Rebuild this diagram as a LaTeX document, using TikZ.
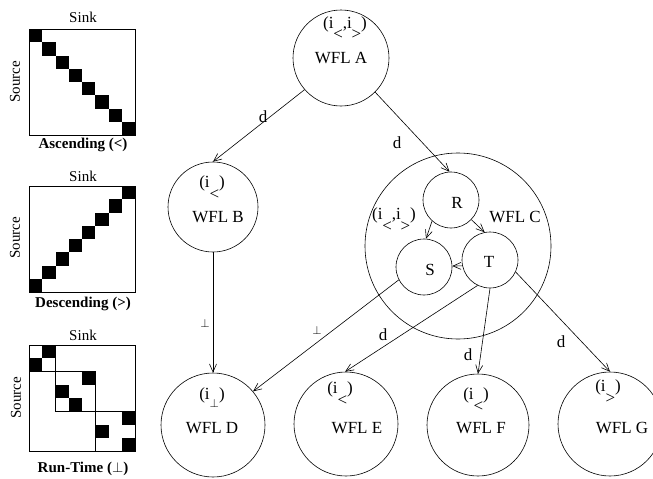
\documentclass[tikz,border=0pt]{standalone}
\usepackage{fontspec}
\setmainfont{Liberation Serif}
\usetikzlibrary{arrows.meta}
\newcommand\lowsym[2][0.75em]{\makebox[0.55em][c]{\raisebox{-#1}{#2}}}
\begin{document}
\begin{tikzpicture}[x=1pt,y=-1pt,
  txt/.style={font=\fontsize{15}{15}\selectfont, inner sep=0pt},
  gtxt/.style={font=\fontsize{17}{17}\selectfont, inner sep=0pt},
  btxt/.style={font=\fontsize{15}{15}\selectfont\bfseries, inner sep=0pt},
  wfl/.style={draw, circle, inner sep=0pt, line width=0.6pt},
  arr/.style={line width=0.6pt, -{Straight Barb[length=8pt,width=7pt]}},
  mbox/.style={draw, line width=0.6pt},
]
\useasboundingbox (0,0) rectangle (653,479);
\def\s{13.25}
% ---------- matrix 1: ascending
\draw[mbox] (29,29) rectangle (135,135);
\foreach \i in {0,...,7} \fill ({29+\i*\s},{29+\i*\s}) rectangle ++(\s,\s);
\node[txt, anchor=base] (sink1) at (83,23) {Sink};
\node[txt, rotate=90] (src1) at (15,82) {Source};
\node[btxt, anchor=base] (asc) at (83,148) {Ascending (<)};
% ---------- matrix 2: descending
\draw[mbox] (29,186) rectangle (135,292);
\foreach \i in {0,...,7} \fill ({29+\i*\s},{186+(7-\i)*\s}) rectangle ++(\s,\s);
\node[txt, anchor=base] (sink2) at (83,181) {Sink};
\node[txt, rotate=90] (src2) at (15,238) {Source};
\node[btxt, anchor=base] (desc) at (83,307) {Descending (>)};
% ---------- matrix 3: run-time
\draw[mbox] (29,345) rectangle (135,451);
\foreach \r/\c in {0/1,1/0,2/4,3/2,4/3,5/7,6/5,7/7}
  \fill ({29+\c*\s},{345+\r*\s}) rectangle ++(\s,\s);
\draw[mbox] (29,345) rectangle ++({2*\s},{2*\s});
\draw[mbox] ({29+2*\s},{345+2*\s}) rectangle ++({3*\s},{3*\s});
\draw[mbox] ({29+5*\s},{345+5*\s}) rectangle ++({3*\s},{3*\s});
\node[txt, anchor=base] (sink3) at (83,340) {Sink};
\node[txt, rotate=90] (src3) at (16,398) {Source};
\node[btxt, anchor=base] (rt) at (83,472) {Run-Time ($\perp$)};
% ---------- graph
\node[wfl, minimum size=96pt] (A) at (341,58) {};
\node[wfl, minimum size=90pt] (B) at (213,207) {};
\node[wfl, minimum size=186pt] (C) at (458,246) {};
\node[wfl, minimum size=56pt] (R) at (451,200) {};
\node[wfl, minimum size=56pt] (S) at (424,267) {};
\node[wfl, minimum size=56pt] (T) at (490,260) {};
\node[wfl, minimum size=104pt] (D) at (213,425) {};
\node[wfl, minimum size=104pt] (E) at (346,424) {};
\node[wfl, minimum size=102pt] (F) at (478,425) {};
\node[wfl, minimum size=104pt] (G) at (610,424) {};
% texts in circles
\node[gtxt, anchor=base] (Ai) at (345,28) {(i\lowsym[0.65em]{<},i\lowsym[0.65em]{>})};
\node[gtxt, anchor=base] (Al) at (341,63) {WFL A};
\node[gtxt, anchor=base] (Bi) at (212,187) {(i\lowsym{<})};
\node[gtxt, anchor=base] (Bl) at (218,222) {WFL B};
\node[gtxt, anchor=base] (Ci) at (394,219) {(i\lowsym{<},i\lowsym{>})};
\node[gtxt, anchor=base] (Cl) at (515,222) {WFL C};
\node[gtxt, anchor=base] (Rl) at (457,208) {R};
\node[gtxt, anchor=base] (Sl) at (430,275) {S};
\node[gtxt, anchor=base] (Tl) at (489,267) {T};
\node[gtxt, anchor=base] (Di) at (212,399) {(i\lowsym[0.5em]{$\scriptstyle\perp$})};
\node[gtxt, anchor=base] (Dl) at (212,433) {WFL D};
\node[gtxt, anchor=base] (Ei) at (340,393) {(i\lowsym{<})};
\node[gtxt, anchor=base] (El) at (357,433) {WFL E};
\node[gtxt, anchor=base] (Fi) at (476,399) {(i\lowsym{<})};
\node[gtxt, anchor=base] (Fl) at (481,433) {WFL F};
\node[gtxt, anchor=base] (Gi) at (608,391) {(i\lowsym{>})};
\node[gtxt, anchor=base] (Gl) at (622,433) {WFL G};
% connectors
\draw[arr] (A.221) -- (B.90);
\draw[arr] (A.315) -- (R.93);
\draw[arr] (R.228) -- (S.86);
\draw[arr] (R.316) -- (T.101);
\draw[arr] (T.192) -- (S.2);
\draw[arr] (B.270) -- (D.90);
\draw[arr] (S.207) -- (D.40);
\draw[arr] (T.244) -- (E.91);
\draw[arr] (T.270) -- (F.90);
\draw[arr] (T.335) -- (G.90);
% edge labels
\node[gtxt] (l1) at (263,117) {d};
\node[gtxt] (l2) at (397,143) {d};
\node[font=\fontsize{13}{13}\selectfont, inner sep=0pt] (l3) at (205,323) {$\perp$};
\node[font=\fontsize{13}{13}\selectfont, inner sep=0pt] (l4) at (317,330) {$\perp$};
\node[gtxt] (l5) at (383,335) {d};
\node[gtxt] (l6) at (468,355) {d};
\node[gtxt] (l7) at (561,342) {d};
\end{tikzpicture}
\end{document}
